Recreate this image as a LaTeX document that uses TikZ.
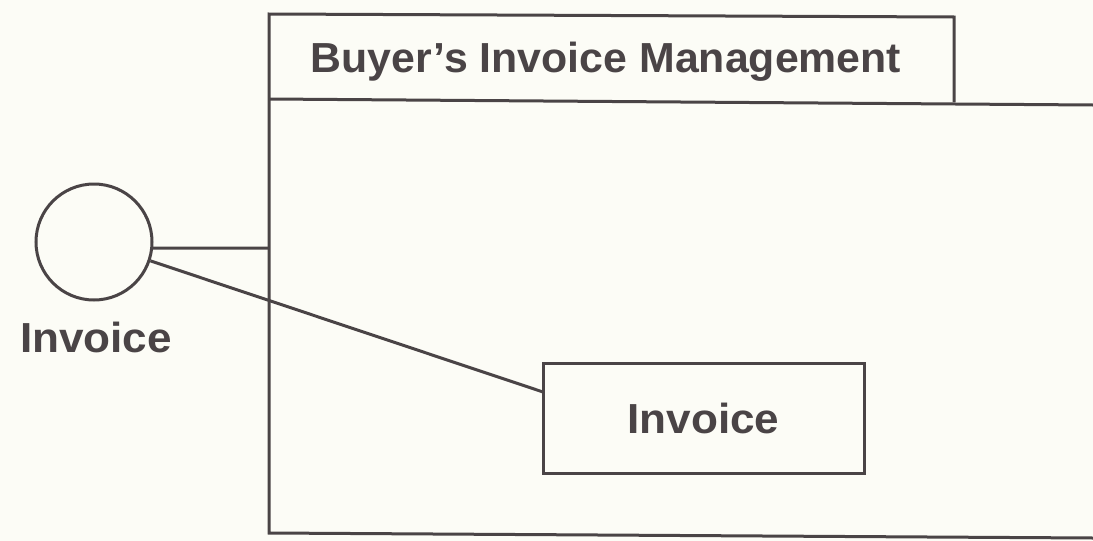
\documentclass[tikz,border=0pt]{standalone}
\usepackage{fontspec}
\setmainfont{Liberation Sans}
\newfontfamily\titlefont[FakeStretch=1.02]{Liberation Sans}
\newfontfamily\labelfont[FakeStretch=1.05]{Liberation Sans}
\definecolor{ink}{RGB}{74,68,70}
\definecolor{paper}{RGB}{252,252,246}
\tikzset{
  umlline/.style={draw=ink, line width=3pt},
  pkgtext/.style={text=ink, inner sep=0pt, font=\titlefont\bfseries\fontsize{42}{48}\selectfont},
  lbltext/.style={text=ink, inner sep=0pt, font=\labelfont\bfseries\fontsize{42}{48}\selectfont},
  ifacecircle/.style={umlline, circle, minimum size=116pt, inner sep=0pt},
  classbox/.style={umlline, rectangle, minimum width=321pt, minimum height=110pt, inner sep=0pt,
    text=ink, font=\labelfont\bfseries\fontsize{42}{48}\selectfont}
}
\begin{document}
\begin{tikzpicture}[x=1pt, y=-1pt, line join=miter]
  \fill[paper] (0,0) rectangle (1093,541);
  \useasboundingbox (0,0) rectangle (1093,541);
  % package outline (open on the right, runs off the picture)
  \coordinate (tabtl) at (269,14);
  \coordinate (tabtr) at (954,17);
  \coordinate (tabbr) at (954,102);
  \coordinate (bodytl) at (269,99);
  \coordinate (bodytr) at (1093,105);
  \coordinate (bodybl) at (269,533);
  \coordinate (bodybr) at (1093,538);
  \draw[umlline] (tabbr) -- (tabtr) -- (tabtl) -- (bodybl) -- (bodybr);
  \draw[umlline] (bodytl) -- (bodytr);
  \node[pkgtext, anchor=base] (pkgname) at (606,72) {Buyer’s Invoice Management};
  % interface lollipop
  \node[ifacecircle] (iface) at (94,242) {};
  \node[lbltext, anchor=base] (ifacelabel) at (96,352) {Invoice};
  % class
  \node[classbox] (cls) at (703.5,418) {Invoice};
  % connectors
  \coordinate (pkgin) at (269,248);
  \coordinate (clsin) at (543,392);
  \draw[umlline] (iface.-6) -- (pkgin);
  \draw[umlline] (iface) -- (clsin);
\end{tikzpicture}
\end{document}
